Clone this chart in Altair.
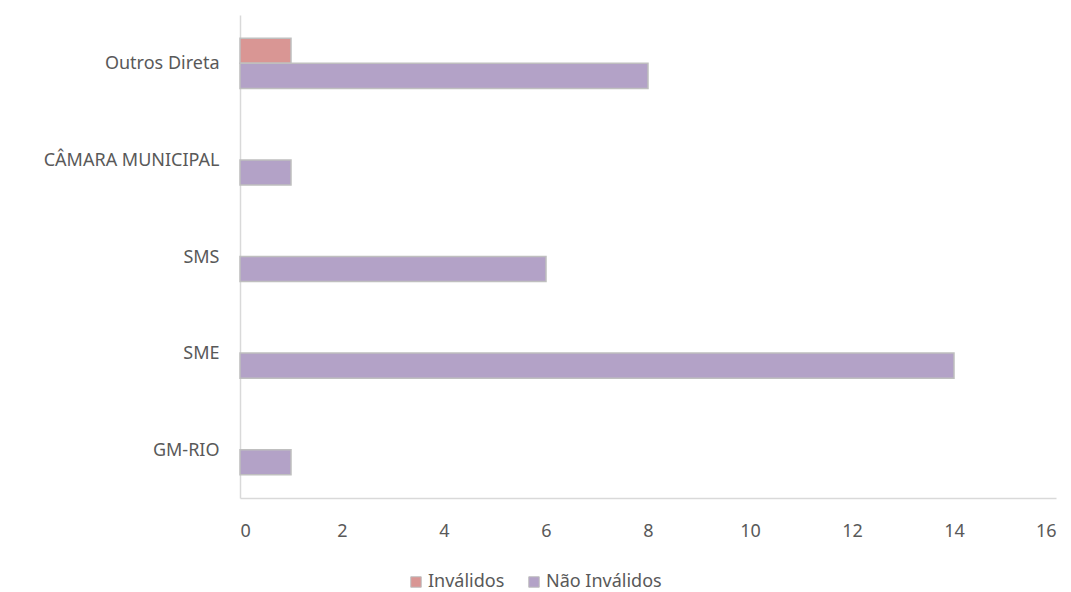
import altair as alt
import pandas as pd

categories = ["Outros Direta", "CÂMARA MUNICIPAL", "SMS", "SME", "GM-RIO"]
series = ["Inválidos", "Não Inválidos"]
invalidos = [1, None, None, None, None]
nao_invalidos = [8, 1, 6, 14, 1]
x_ticks = [0, 2, 4, 6, 8, 10, 12, 14, 16]

rows = []
for c, a, b in zip(categories, invalidos, nao_invalidos):
    if a is not None:
        rows.append({"cat": c, "serie": series[0], "v": a})
    if b is not None:
        rows.append({"cat": c, "serie": series[1], "v": b})
df = pd.DataFrame(rows)

font = "Noto Sans"
fs = 18
chart = alt.Chart(df).mark_bar(stroke="#BFBFBF", strokeWidth=1.5).encode(
    y=alt.Y("cat:N", sort=categories, title=None,
            scale=alt.Scale(paddingInner=0.48, paddingOuter=0.24),
            axis=alt.Axis(ticks=False, domainColor="#D9D9D9", domainWidth=1.5,
                          labelFontSize=fs, labelColor="#595959", labelFont=font,
                          labelPadding=21, labelFontWeight="normal", labelOffset=1)),
    yOffset=alt.YOffset("serie:N", scale=alt.Scale(domain=series, paddingInner=0, paddingOuter=0)),
    x=alt.X("v:Q", title=None,
            scale=alt.Scale(domain=[0, 16], nice=False),
            axis=alt.Axis(values=x_ticks, grid=False, ticks=False, domainColor="#D9D9D9",
                          domainWidth=1.5, labelFontSize=fs, labelColor="#595959",
                          labelFont=font, labelPadding=24)),
    color=alt.Color("serie:N", scale=alt.Scale(domain=series, range=["#D99694", "#B3A2C7"]),
                    legend=alt.Legend(title=None, orient="none", direction="horizontal",
                                      legendX=167, legendY=558, symbolType="square",
                                      symbolSize=110, symbolStrokeColor="#BFBFBF",
                                      symbolStrokeWidth=1, labelFontSize=fs,
                                      labelColor="#595959", labelFont=font,
                                      columnPadding=20, labelOffset=3)),
).properties(width=816, height=483, padding={"top": 7, "left": 35, "right": 5, "bottom": 5}
).configure_view(stroke=None)

chart.save("out.html", embed_options={"renderer": "svg", "actions": False})
